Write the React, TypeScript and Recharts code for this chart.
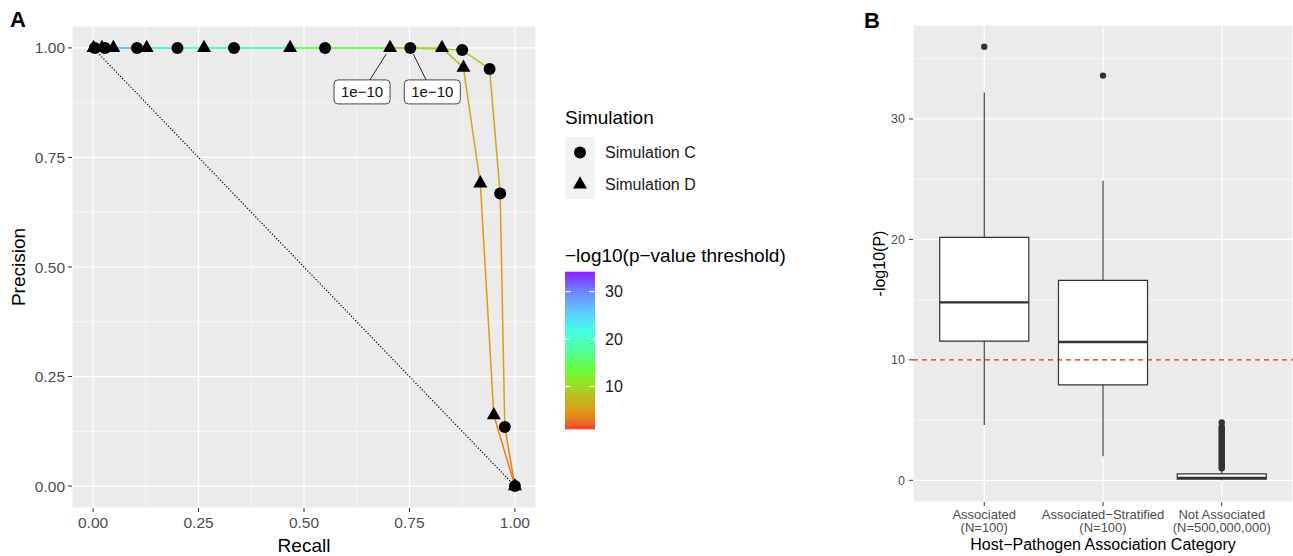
import React from 'react';
import { ScatterChart, Scatter, XAxis, YAxis, CartesianGrid, ReferenceLine, ReferenceArea } from 'recharts';

const FONT = '"Liberation Sans", Arial, Helvetica, sans-serif';

// ---------- Panel A data ----------
const thresholds = [34.2, 30, 26, 22, 18, 14, 10, 8, 6, 5, 3, 1];
const recallC = [0.004, 0.028, 0.104, 0.2, 0.334, 0.55, 0.752, 0.875, 0.94, 0.965, 0.976, 1.0];
const precisionC = [1, 1, 1, 1, 1, 1, 1, 0.995, 0.952, 0.668, 0.135, 0];
const recallD = [0.001, 0.021, 0.048, 0.127, 0.263, 0.467, 0.704, 0.827, 0.878, 0.918, 0.95, 1.0];
const precisionD = [1, 1, 1, 1, 1, 1, 1, 1, 0.955, 0.691, 0.162, 0];
const labelledThreshold = 10;
const labelText = '1e\u221210';
const axisTicksA = [0, 0.25, 0.5, 0.75, 1];
const minorTicksA = [0.125, 0.375, 0.625, 0.875];
const colourbarTicks = [10, 20, 30];
const colourRange = [1, 34.2];

// ---------- Panel B data ----------
const categories = ['Associated', 'Associated\u2212Stratified', 'Not Associated'];
const categoryN = ['(N=100)', '(N=100)', '(N=500,000,000)'];
const categoryPos = [1, 2, 3];
const whiskerLow = [4.6, 1.99, 0.0];
const q1 = [11.56, 7.93, 0.1];
const median = [14.77, 11.48, 0.2];
const q3 = [20.17, 16.6, 0.54];
const whiskerHigh = [32.2, 24.86, 0.95];
const outliersAssociated = [36.0];
const outliersStratified = [33.6];
const outliersNotAssociated = [1.0, 1.15, 1.3, 1.45, 1.6, 1.75, 1.9, 2.05, 2.2, 2.35, 2.5, 2.65, 2.8, 2.95, 3.1, 3.25, 3.4, 3.55, 3.7, 3.85, 4.0, 4.15, 4.3, 4.45, 4.8];
const significanceLine = 10;
const axisTicksB = [0, 10, 20, 30];
const minorTicksB = [5, 15, 25, 35];

// ---------- colour scale ----------
const colourStops: [number, string][] = [
  [1, '#f5402a'],
  [3, '#ea7a1e'],
  [5, '#dc9c1a'],
  [8, '#bcbe22'],
  [11, '#8ee826'],
  [14, '#66fc46'],
  [18, '#52ffa4'],
  [22, '#46fbe8'],
  [26, '#62c4ff'],
  [30, '#6c84ff'],
  [34.2, '#8a22ff'],
];
const hex = (h: string) => [1, 3, 5].map((i) => parseInt(h.slice(i, i + 2), 16));
const colourAt = (v: number) => {
  if (v <= colourStops[0][0]) return colourStops[0][1];
  for (let i = 1; i < colourStops.length; i++) {
    const [v1, c1] = colourStops[i];
    const [v0, c0] = colourStops[i - 1];
    if (v <= v1) {
      const t = (v - v0) / (v1 - v0);
      const a = hex(c0), b = hex(c1);
      const m = a.map((x, k) => Math.round(x + (b[k] - x) * t));
      return `rgb(${m[0]},${m[1]},${m[2]})`;
    }
  }
  return colourStops[colourStops.length - 1][1];
};

const ptsC = recallC.map((r, i) => ({ x: r, y: precisionC[i], t: thresholds[i], sim: 'C' }));
const ptsD = recallD.map((r, i) => ({ x: r, y: precisionD[i], t: thresholds[i], sim: 'D' }));
const segments = (pts: any[]) =>
  pts.slice(0, -1).map((p, i) => ({ data: [p, pts[i + 1]], colour: colourAt(p.t) }));
const segC = segments(ptsC);
const segD = segments(ptsD);
const labelled = [...ptsD, ...ptsC].filter((p) => p.t === labelledThreshold);
const labelNudge: Record<string, number> = { D: -28, C: 22 };
const diagonal = [{ x: 0, y: 1 }, { x: 1, y: 0 }];

const outlierPts = [
  ...outliersAssociated.map((y) => ({ x: categoryPos[0], y })),
  ...outliersStratified.map((y) => ({ x: categoryPos[1], y })),
  ...outliersNotAssociated.map((y) => ({ x: categoryPos[2], y })),
];
const BOX_HALF = 0.375;

const Empty = () => <g />;
const CircleShape = (p: any) => <circle cx={p.cx} cy={p.cy} r={6} fill="#000" />;
const TriangleShape = (p: any) => (
  <polygon
    points={`${p.cx},${p.cy - 8.2} ${p.cx + 7},${p.cy + 4.1} ${p.cx - 7},${p.cy + 4.1}`}
    fill="#000"
  />
);
const LabelShape = (p: any) => {
  const nudge = labelNudge[p.payload.sim];
  const bx = p.cx + nudge;
  const top = p.cy + 32;
  const ex = p.cx + nudge * 0.72;
  const dx = ex - p.cx, dy = top - p.cy;
  const len = Math.sqrt(dx * dx + dy * dy);
  const sx = p.cx + (dx / len) * 7, sy = p.cy + (dy / len) * 7;
  return (
    <g>
      <line x1={sx} y1={sy} x2={ex} y2={top} stroke="#222" strokeWidth={1} />
      <rect x={bx - 28} y={top} width={56} height={24} rx={4} fill="#fff" stroke="#333" strokeWidth={0.9} />
      <text x={bx} y={top + 17} textAnchor="middle" fontSize={15} fontFamily={FONT} fill="#111">
        {labelText}
      </text>
    </g>
  );
};
const OutlierShape = (p: any) => <circle cx={p.cx} cy={p.cy} r={3.2} fill="#333" />;

const BTick = (p: any) => {
  const i = categoryPos.indexOf(p.payload.value);
  return (
    <text x={p.x} y={p.y} textAnchor="middle" fontSize={13} fontFamily={FONT} fill="#4d4d4d">
      <tspan x={p.x} dy="0.71em">{categories[i]}</tspan>
      <tspan x={p.x} dy="1.0em">{categoryN[i]}</tspan>
    </text>
  );
};

const cbTop = 271.7, cbBottom = 429.3;
const cbY = (v: number) => cbBottom - ((v - colourRange[0]) / (colourRange[1] - colourRange[0])) * (cbBottom - cbTop);

export default function App() {
  return (
    <div style={{ position: 'absolute', left: 0, top: 0, width: 1293, height: 556, background: '#fff', fontFamily: FONT }}>
      {/* Panel A */}
      <div style={{ position: 'absolute', left: 0, top: 0 }}>
        <ScatterChart width={560} height={556} margin={{ top: 26, right: 24, bottom: 0, left: 0 }}>
          <CartesianGrid fill="#ebebeb" fillOpacity={1} stroke="#ffffff" strokeWidth={1.2} />
          <CartesianGrid horizontalValues={minorTicksA} verticalValues={minorTicksA} stroke="#ffffff" strokeWidth={0.6} />
          <XAxis
            type="number"
            dataKey="x"
            domain={[-0.05, 1.05]}
            ticks={axisTicksA}
            allowDataOverflow
            tickFormatter={(v: number) => v.toFixed(2)}
            axisLine={false}
            tickLine={{ stroke: '#333', strokeWidth: 1 }}
            tickSize={4}
            tickMargin={5}
            height={48}
            tick={{ fill: '#4d4d4d', fontSize: 15.5, fontFamily: FONT }}
          />
          <YAxis
            type="number"
            dataKey="y"
            domain={[-0.05, 1.05]}
            ticks={axisTicksA}
            allowDataOverflow
            tickFormatter={(v: number) => v.toFixed(2)}
            axisLine={false}
            tickLine={{ stroke: '#333', strokeWidth: 1 }}
            tickSize={4}
            tickMargin={3}
            width={72}
            tick={{ fill: '#4d4d4d', fontSize: 15.5, fontFamily: FONT }}
          />
          <Scatter
            data={diagonal}
            line={{ stroke: '#000', strokeWidth: 1.2, strokeDasharray: '1.2 1.8' }}
            shape={Empty}
            isAnimationActive={false}
          />
          {segC.map((s, i) => (
            <Scatter key={'c' + i} data={s.data} line={{ stroke: s.colour, strokeWidth: 1.5 }} shape={Empty} isAnimationActive={false} />
          ))}
          {segD.map((s, i) => (
            <Scatter key={'d' + i} data={s.data} line={{ stroke: s.colour, strokeWidth: 1.5 }} shape={Empty} isAnimationActive={false} />
          ))}
          <Scatter name="Simulation C" data={ptsC} shape={CircleShape} isAnimationActive={false} />
          <Scatter name="Simulation D" data={ptsD} shape={TriangleShape} isAnimationActive={false} />
          <Scatter data={labelled} shape={LabelShape} isAnimationActive={false} />
        </ScatterChart>
      </div>

      {/* Panel B */}
      <div style={{ position: 'absolute', left: 860, top: 0 }}>
        <ScatterChart width={433} height={556} margin={{ top: 25, right: 0, bottom: 0, left: 0 }}>
          <CartesianGrid fill="#ebebeb" fillOpacity={1} stroke="#ffffff" strokeWidth={1.2} />
          <CartesianGrid horizontalValues={minorTicksB} vertical={false} stroke="#ffffff" strokeWidth={0.6} />
          <XAxis
            type="number"
            dataKey="x"
            domain={[0.4, 3.6]}
            ticks={categoryPos}
            allowDataOverflow
            axisLine={false}
            tickLine={{ stroke: '#333', strokeWidth: 1 }}
            tickSize={4}
            tickMargin={4}
            height={54}
            tick={<BTick />}
          />
          <YAxis
            type="number"
            dataKey="y"
            domain={[-1.8, 37.8]}
            ticks={axisTicksB}
            allowDataOverflow
            axisLine={false}
            tickLine={{ stroke: '#333', strokeWidth: 1 }}
            tickSize={4}
            tickMargin={4}
            width={53}
            tick={{ fill: '#4d4d4d', fontSize: 12.5, fontFamily: FONT }}
          />
          {categoryPos.map((c, i) => (
            <ReferenceLine key={'wh' + i} segment={[{ x: c, y: q3[i] }, { x: c, y: whiskerHigh[i] }]} stroke="#333" strokeWidth={1.1} />
          ))}
          {categoryPos.map((c, i) => (
            <ReferenceLine key={'wl' + i} segment={[{ x: c, y: q1[i] }, { x: c, y: whiskerLow[i] }]} stroke="#333" strokeWidth={1.1} />
          ))}
          {categoryPos.map((c, i) => (
            <ReferenceArea
              key={'box' + i}
              x1={c - BOX_HALF}
              x2={c + BOX_HALF}
              y1={q1[i]}
              y2={q3[i]}
              fill="#ffffff"
              fillOpacity={1}
              stroke="#333"
              strokeWidth={1.2}
            />
          ))}
          {categoryPos.map((c, i) => (
            <ReferenceLine key={'med' + i} segment={[{ x: c - BOX_HALF, y: median[i] }, { x: c + BOX_HALF, y: median[i] }]} stroke="#333" strokeWidth={2.4} />
          ))}
          <Scatter data={outlierPts} shape={OutlierShape} isAnimationActive={false} />
          <ReferenceLine y={significanceLine} stroke="#f21d1d" strokeWidth={1.2} strokeDasharray="5 4" />
        </ScatterChart>
      </div>

      {/* Titles, panel tags and legends */}
      <svg width={1293} height={556} style={{ position: 'absolute', left: 0, top: 0, pointerEvents: 'none' }} fontFamily={FONT}>
        <defs>
          <linearGradient id="cbar" x1="0" y1="1" x2="0" y2="0">
            {colourStops.map(([v, c], i) => (
              <stop key={i} offset={(v - colourRange[0]) / (colourRange[1] - colourRange[0])} stopColor={c} />
            ))}
          </linearGradient>
        </defs>
        <text x={10} y={27} fontSize={22} fontWeight="bold" fill="#000">A</text>
        <text x={864} y={28} fontSize={22} fontWeight="bold" fill="#000">B</text>

        <text x={304} y={552} fontSize={19} textAnchor="middle" fill="#000">Recall</text>
        <text transform="translate(25,267) rotate(-90)" fontSize={19} textAnchor="middle" fill="#000">Precision</text>

        <text x={1103} y={550} fontSize={16} textAnchor="middle" fill="#000">{'Host\u2212Pathogen Association Category'}</text>
        <text transform="translate(884.5,263.5) rotate(-90)" fontSize={16} textAnchor="middle" fill="#000">-log10(P)</text>

        <text x={565} y={123.5} fontSize={19} fill="#000">Simulation</text>
        <rect x={565} y={137} width={30} height={62} fill="#f2f2f2" />
        <circle cx={580} cy={152.5} r={6} fill="#000" />
        <polygon points="580,176.3 587,188.6 573,188.6" fill="#000" />
        <text x={605} y={158} fontSize={16} fill="#1a1a1a">Simulation C</text>
        <text x={605} y={190} fontSize={16} fill="#1a1a1a">Simulation D</text>

        <text x={565} y={261.5} fontSize={19} fill="#000">{'\u2212log10(p\u2212value threshold)'}</text>
        <rect x={565} y={cbTop} width={30} height={cbBottom - cbTop} fill="url(#cbar)" />
        {colourbarTicks.map((v) => (
          <g key={v}>
            <line x1={565} x2={571} y1={cbY(v)} y2={cbY(v)} stroke="#fff" strokeWidth={1} />
            <line x1={589} x2={595} y1={cbY(v)} y2={cbY(v)} stroke="#fff" strokeWidth={1} />
            <text x={605} y={cbY(v) + 5.8} fontSize={16} fill="#1a1a1a">{v}</text>
          </g>
        ))}
      </svg>
    </div>
  );
}
